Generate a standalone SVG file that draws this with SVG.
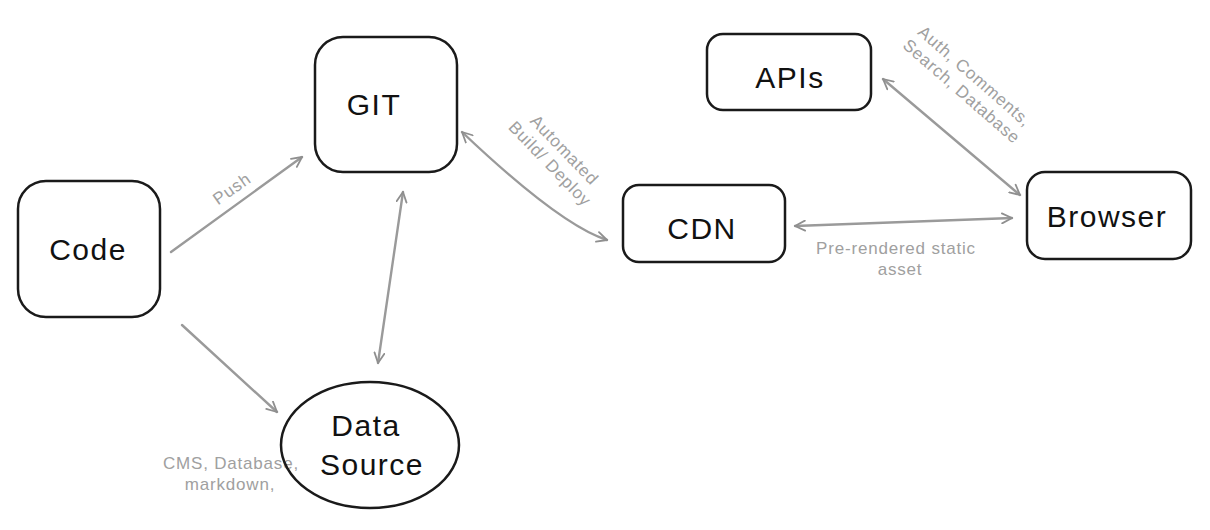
<svg xmlns="http://www.w3.org/2000/svg" width="1210" height="530" viewBox="0 0 1210 530">
  <defs>
    <marker id="arr" viewBox="0 0 12 12" refX="11" refY="6" markerWidth="12" markerHeight="12" markerUnits="userSpaceOnUse" orient="auto-start-reverse">
      <path d="M1,1 L11,6 L1,11" fill="none" stroke="#8f8f8f" stroke-width="1.8" stroke-linecap="round" stroke-linejoin="round"/>
    </marker>
    <style>
      .node { fill: #ffffff; stroke: #1a1a1a; stroke-width: 2.5; }
      .ntext { font-family: "Liberation Sans", Arial, sans-serif; font-size: 30px; letter-spacing: 1.5px; fill: #111111; text-anchor: middle; dominant-baseline: central; }
      .conn { fill: none; stroke: #9a9a9a; stroke-width: 2.4; stroke-linecap: round; }
      .lbl { font-family: "Liberation Sans", Arial, sans-serif; font-size: 17px; letter-spacing: 0.8px; fill: #a0a0a0; text-anchor: middle; dominant-baseline: central; }
    </style>
  </defs>
  <rect width="1210" height="530" fill="#ffffff"/>

  <g id="connectors">
    <g id="push">
      <line class="conn" x1="171" y1="252" x2="302" y2="157" marker-end="url(#arr)"/>
      <text class="lbl" transform="translate(232,189) rotate(-35)">Push</text>
    </g>
    <g id="code-datasource">
      <line class="conn" x1="182" y1="325" x2="277" y2="412" marker-end="url(#arr)"/>
      <text class="lbl" x="231" y="463">CMS, Database,</text>
      <text class="lbl" x="230" y="484">markdown,</text>
    </g>
    <g id="git-datasource">
      <line class="conn" x1="403" y1="192" x2="378" y2="363" marker-start="url(#arr)" marker-end="url(#arr)"/>
    </g>
    <g id="git-cdn">
      <path class="conn" d="M462,132 Q560,225 607,240" marker-start="url(#arr)" marker-end="url(#arr)"/>
      <g transform="translate(557,157) rotate(46)">
        <text class="lbl" x="0" y="-10">Automated</text>
        <text class="lbl" x="0" y="10">Build/ Deploy</text>
      </g>
    </g>
    <g id="cdn-browser">
      <line class="conn" x1="795" y1="226" x2="1012" y2="218" marker-start="url(#arr)" marker-end="url(#arr)"/>
      <text class="lbl" x="896" y="248">Pre-rendered static</text>
      <text class="lbl" x="900" y="269">asset</text>
    </g>
    <g id="apis-browser">
      <line class="conn" x1="883" y1="79" x2="1020" y2="195" marker-start="url(#arr)" marker-end="url(#arr)"/>
      <g transform="translate(968,84) rotate(41)">
        <text class="lbl" x="0" y="-10">Auth, Comments,</text>
        <text class="lbl" x="0" y="10">Search, Database</text>
      </g>
    </g>
  </g>

  <g id="code">
    <rect class="node" x="18" y="181" width="142" height="136" rx="28"/>
    <text class="ntext" x="88" y="249">Code</text>
  </g>
  <g id="git">
    <rect class="node" x="315" y="37" width="142" height="135" rx="28"/>
    <text class="ntext" x="374" y="104">GIT</text>
  </g>
  <g id="apis">
    <rect class="node" x="707" y="34" width="164" height="76" rx="16"/>
    <text class="ntext" x="790" y="77">APIs</text>
  </g>
  <g id="cdn">
    <rect class="node" x="623" y="185" width="162" height="77" rx="16"/>
    <text class="ntext" x="702" y="228">CDN</text>
  </g>
  <g id="browser">
    <rect class="node" x="1027" y="172" width="164" height="87" rx="18"/>
    <text class="ntext" x="1107" y="216">Browser</text>
  </g>
  <g id="datasource">
    <ellipse class="node" cx="370" cy="445" rx="89" ry="63" style="fill:none"/>
    <text class="ntext" x="366" y="425">Data</text>
    <text class="ntext" x="372" y="464">Source</text>
  </g>
</svg>
